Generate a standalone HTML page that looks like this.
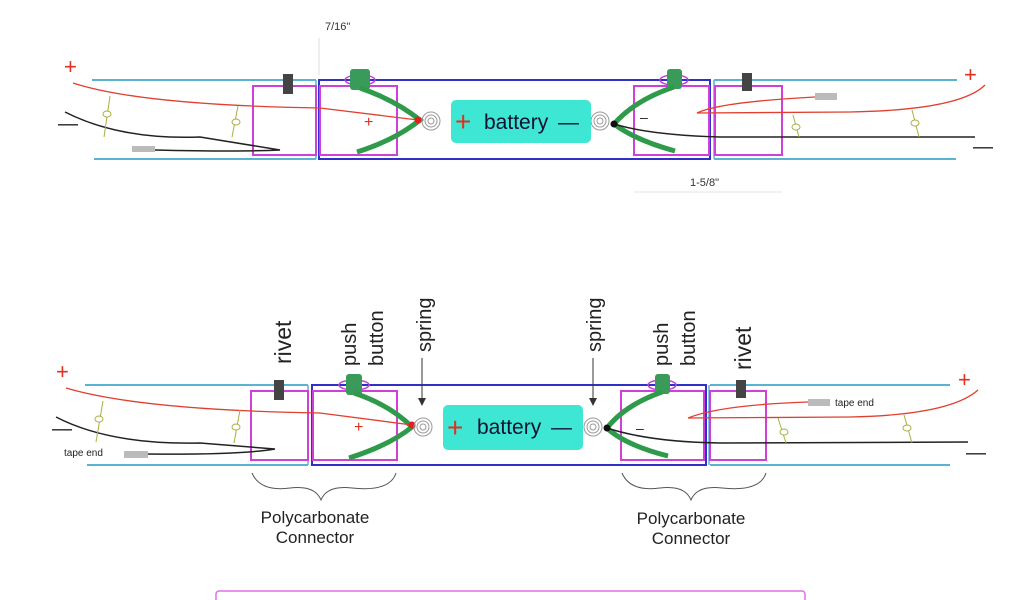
<!DOCTYPE html>
<html><head><style>
body{margin:0;background:#fff;}
svg{display:block}
text{font-family:"Liberation Sans",sans-serif}
</style></head><body>
<svg width="1024" height="600" viewBox="0 0 1024 600" xmlns="http://www.w3.org/2000/svg">
<rect width="1024" height="600" fill="#fff"/>
<g>
<line x1="92" y1="80" x2="316" y2="80" stroke="#5ab4d0" stroke-width="2"/>
<line x1="94" y1="159" x2="316" y2="159" stroke="#5ab4d0" stroke-width="2"/>
<line x1="714" y1="80" x2="957" y2="80" stroke="#5ab4d0" stroke-width="2"/>
<line x1="714" y1="159" x2="956" y2="159" stroke="#5ab4d0" stroke-width="2"/>
<line x1="316" y1="80" x2="316" y2="159" stroke="#5ab4d0" stroke-width="1.5"/>
<line x1="714" y1="80" x2="714" y2="159" stroke="#5ab4d0" stroke-width="1.5"/>
<rect x="319" y="80" width="391" height="79" fill="none" stroke="#3030c8" stroke-width="2"/>
<rect x="253" y="86" width="63" height="69" fill="none" stroke="#d040d8" stroke-width="2"/>
<rect x="320" y="86" width="77" height="69" fill="none" stroke="#d040d8" stroke-width="2"/>
<rect x="634" y="86" width="75" height="69" fill="none" stroke="#d040d8" stroke-width="2"/>
<rect x="715" y="86" width="67" height="69" fill="none" stroke="#d040d8" stroke-width="2"/>
<rect x="283" y="74" width="10" height="20" fill="#444"/>
<rect x="742" y="73" width="10" height="18" fill="#444"/>
<ellipse cx="360" cy="80" rx="15" ry="5" fill="none" stroke="#c040d8" stroke-width="1.5"/>
<rect x="350" y="69" width="20" height="21" rx="3" fill="#3a9a5a"/>
<ellipse cx="674" cy="80" rx="14" ry="5" fill="none" stroke="#c040d8" stroke-width="1.5"/>
<rect x="667" y="69" width="15" height="20" rx="3" fill="#3a9a5a"/>
<path d="M360 88 Q395 100 420 120 Q395 140 357 152" fill="none" stroke="#2e9a4a" stroke-width="5"/>
<path d="M674 87 Q635 100 614 124 Q635 140 675 151" fill="none" stroke="#2e9a4a" stroke-width="5"/>
<path d="M73 83 Q140 105 320 108 L418 120" fill="none" stroke="#e04030" stroke-width="1.3"/>
<path d="M65 112 Q120 140 200 137 L280 150 Q240 152 155 150" fill="none" stroke="#222" stroke-width="1.5"/>
<rect x="132" y="146" width="23" height="6" fill="#bbb"/>
<circle cx="418" cy="120" r="3.5" fill="#e02020"/>
<circle cx="431" cy="121" r="9" fill="none" stroke="#999" stroke-width="1"/>
<circle cx="431" cy="121" r="6" fill="none" stroke="#999" stroke-width="1"/>
<circle cx="431" cy="121" r="3" fill="none" stroke="#999" stroke-width="1"/>
<path d="M985 85 Q960 110 850 112 L697 113 Q720 102 815 97" fill="none" stroke="#e04030" stroke-width="1.3"/>
<rect x="815" y="93" width="22" height="7" fill="#bbb"/>
<path d="M614 124 Q650 135 720 137 L975 137" fill="none" stroke="#222" stroke-width="1.5"/>
<circle cx="614" cy="124" r="3.5" fill="#111"/>
<circle cx="600" cy="121" r="9" fill="none" stroke="#999" stroke-width="1"/>
<circle cx="600" cy="121" r="6" fill="none" stroke="#999" stroke-width="1"/>
<circle cx="600" cy="121" r="3" fill="none" stroke="#999" stroke-width="1"/>
<g stroke="#a8b040" fill="#fff" stroke-width="1">
<line x1="110" y1="96" x2="104" y2="137"/><ellipse cx="107" cy="114" rx="4" ry="3"/>
<line x1="238" y1="106" x2="232" y2="137"/><ellipse cx="236" cy="122" rx="4" ry="3"/>
<line x1="793" y1="115" x2="799" y2="137"/><ellipse cx="796" cy="127" rx="4" ry="3"/>
<line x1="912" y1="110" x2="919" y2="137"/><ellipse cx="915" cy="123" rx="4" ry="3"/>
</g>
<rect x="451" y="100" width="140" height="43" rx="5" fill="#3ee6d4"/>
<text x="455" y="131" font-size="28" fill="#e03020">+</text>
<text x="484" y="129" font-size="21" fill="#113">battery</text>
<text x="558" y="129" font-size="21" fill="#113">—</text>
<text x="364" y="127" font-size="16" fill="#e03020">+</text>
<text x="640" y="122" font-size="14" fill="#222">–</text>
<text x="64" y="74" font-size="22" fill="#e03020">+</text>
<text x="58" y="130" font-size="20" fill="#222">—</text>
<text x="964" y="82" font-size="22" fill="#e03020">+</text>
<text x="973" y="153" font-size="20" fill="#222">—</text>
<text x="325" y="30" font-size="11" fill="#333">7/16"</text>
<line x1="319" y1="38" x2="319" y2="75" stroke="#ddd" stroke-width="1"/>
<text x="690" y="186" font-size="11" fill="#333">1-5/8"</text>
<line x1="634" y1="192" x2="782" y2="192" stroke="#e4e4e4" stroke-width="1"/>
</g>

<g>
<line x1="85" y1="385" x2="308" y2="385" stroke="#5ab4d0" stroke-width="2"/>
<line x1="87" y1="465" x2="308" y2="465" stroke="#5ab4d0" stroke-width="2"/>
<line x1="710" y1="385" x2="950" y2="385" stroke="#5ab4d0" stroke-width="2"/>
<line x1="710" y1="465" x2="950" y2="465" stroke="#5ab4d0" stroke-width="2"/>
<line x1="308" y1="385" x2="308" y2="465" stroke="#5ab4d0" stroke-width="1.5"/>
<line x1="709" y1="385" x2="709" y2="465" stroke="#5ab4d0" stroke-width="1.5"/>
<rect x="312" y="385" width="394" height="80" fill="none" stroke="#3030c8" stroke-width="2"/>
<rect x="251" y="391" width="57" height="69" fill="none" stroke="#d040d8" stroke-width="2"/>
<rect x="313" y="391" width="84" height="69" fill="none" stroke="#d040d8" stroke-width="2"/>
<rect x="621" y="391" width="83" height="69" fill="none" stroke="#d040d8" stroke-width="2"/>
<rect x="710" y="391" width="56" height="69" fill="none" stroke="#d040d8" stroke-width="2"/>
<rect x="274" y="380" width="10" height="20" fill="#444"/>
<rect x="736" y="380" width="10" height="18" fill="#444"/>
<ellipse cx="354" cy="385" rx="15" ry="5" fill="none" stroke="#c040d8" stroke-width="1.5"/>
<rect x="346" y="374" width="16" height="21" rx="3" fill="#3a9a5a"/>
<ellipse cx="662" cy="385" rx="14" ry="5" fill="none" stroke="#c040d8" stroke-width="1.5"/>
<rect x="655" y="374" width="15" height="20" rx="3" fill="#3a9a5a"/>
<path d="M354 393 Q390 405 412 427 Q390 445 349 458" fill="none" stroke="#2e9a4a" stroke-width="5"/>
<path d="M662 392 Q625 405 607 428 Q625 445 668 456" fill="none" stroke="#2e9a4a" stroke-width="5"/>
<path d="M66 388 Q140 410 320 413 L412 425" fill="none" stroke="#e04030" stroke-width="1.3"/>
<path d="M56 417 Q110 445 200 443 L275 449 Q240 455 145 454" fill="none" stroke="#222" stroke-width="1.5"/>
<rect x="124" y="451" width="24" height="7" fill="#bbb"/>
<circle cx="412" cy="425" r="3.5" fill="#e02020"/>
<circle cx="423" cy="427" r="9" fill="none" stroke="#999" stroke-width="1"/>
<circle cx="423" cy="427" r="6" fill="none" stroke="#999" stroke-width="1"/>
<circle cx="423" cy="427" r="3" fill="none" stroke="#999" stroke-width="1"/>
<path d="M978 390 Q950 415 850 417 L688 418 Q720 405 808 402" fill="none" stroke="#e04030" stroke-width="1.3"/>
<rect x="808" y="399" width="22" height="7" fill="#bbb"/>
<text x="835" y="406" font-size="10" fill="#222">tape end</text>
<text x="64" y="456" font-size="10" fill="#222">tape end</text>
<path d="M607 428 Q650 442 720 443 L968 442" fill="none" stroke="#222" stroke-width="1.5"/>
<circle cx="607" cy="428" r="3.5" fill="#111"/>
<circle cx="593" cy="427" r="9" fill="none" stroke="#999" stroke-width="1"/>
<circle cx="593" cy="427" r="6" fill="none" stroke="#999" stroke-width="1"/>
<circle cx="593" cy="427" r="3" fill="none" stroke="#999" stroke-width="1"/>
<g stroke="#a8b040" fill="#fff" stroke-width="1">
<line x1="103" y1="401" x2="96" y2="442"/><ellipse cx="99" cy="419" rx="4" ry="3"/>
<line x1="240" y1="410" x2="234" y2="443"/><ellipse cx="236" cy="427" rx="4" ry="3"/>
<line x1="778" y1="418" x2="786" y2="443"/><ellipse cx="784" cy="432" rx="4" ry="3"/>
<line x1="904" y1="415" x2="912" y2="443"/><ellipse cx="907" cy="428" rx="4" ry="3"/>
</g>
<rect x="443" y="405" width="140" height="45" rx="5" fill="#3ee6d4"/>
<text x="447" y="437" font-size="28" fill="#e03020">+</text>
<text x="477" y="434" font-size="21" fill="#113">battery</text>
<text x="551" y="434" font-size="21" fill="#113">—</text>
<text x="354" y="432" font-size="16" fill="#e03020">+</text>
<text x="636" y="433" font-size="14" fill="#222">–</text>
<text x="56" y="379" font-size="22" fill="#e03020">+</text>
<text x="52" y="435" font-size="20" fill="#222">—</text>
<text x="958" y="387" font-size="22" fill="#e03020">+</text>
<text x="966" y="459" font-size="20" fill="#222">—</text>
<text transform="translate(291,364) rotate(-90)" font-size="23" fill="#222">rivet</text>
<text transform="translate(356,366) rotate(-90)" font-size="20" fill="#222">push</text>
<text transform="translate(383,366) rotate(-90)" font-size="20" fill="#222">button</text>
<text transform="translate(431,352) rotate(-90)" font-size="20" fill="#222">spring</text>
<line x1="422" y1="358" x2="422" y2="400" stroke="#333" stroke-width="1"/>
<path d="M418 398 L422 406 L426 398 Z" fill="#333"/>
<text transform="translate(601,352) rotate(-90)" font-size="20" fill="#222">spring</text>
<line x1="593" y1="358" x2="593" y2="400" stroke="#333" stroke-width="1"/>
<path d="M589 398 L593 406 L597 398 Z" fill="#333"/>
<text transform="translate(668,366) rotate(-90)" font-size="20" fill="#222">push</text>
<text transform="translate(695,366) rotate(-90)" font-size="20" fill="#222">button</text>
<text transform="translate(751,370) rotate(-90)" font-size="23" fill="#222">rivet</text>
<path d="M252 473 Q260 492 290 488 Q315 485 321 500 Q327 485 352 488 Q390 492 396 473" fill="none" stroke="#555" stroke-width="1"/>
<path d="M622 473 Q630 492 660 488 Q685 485 691 500 Q697 485 722 488 Q760 492 766 473" fill="none" stroke="#555" stroke-width="1"/>
<text x="315" y="523" font-size="17" fill="#222" text-anchor="middle">Polycarbonate</text>
<text x="315" y="543" font-size="17" fill="#222" text-anchor="middle">Connector</text>
<text x="691" y="524" font-size="17" fill="#222" text-anchor="middle">Polycarbonate</text>
<text x="691" y="544" font-size="17" fill="#222" text-anchor="middle">Connector</text>
</g>
<rect x="216" y="591" width="589" height="20" rx="3" fill="none" stroke="#e070e8" stroke-width="1.5"/>
</svg>
</body></html>
